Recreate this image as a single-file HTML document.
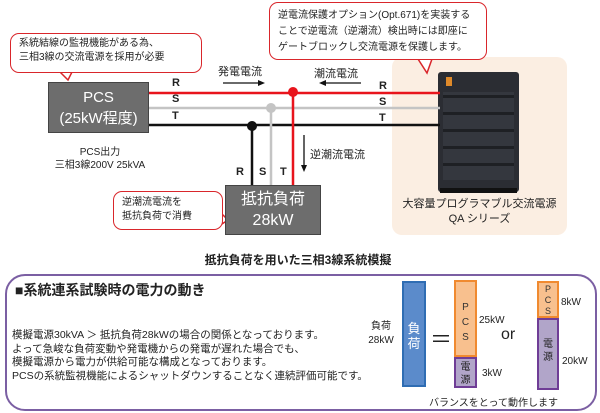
<!DOCTYPE html>
<html><head><meta charset="utf-8"><style>
*{margin:0;padding:0;box-sizing:border-box}
body{width:600px;height:413px;background:#fff;position:relative;overflow:hidden;font-family:"Liberation Sans","Noto Sans CJK JP",sans-serif;color:#222}
.a{position:absolute;white-space:nowrap}
.call{position:absolute;border:1.5px solid #d9262b;border-radius:9px;background:#fff;font-size:10px;line-height:14px;padding:3px 8px}
.box{position:absolute;background:#6d6d6d;border:1px solid #444;color:#fff;text-align:center}
.b{font-weight:bold;font-size:11px}
</style></head><body>
<div class="a" style="left:392px;top:57px;width:175px;height:178px;background:#fbeee2;border-radius:10px"></div>
<div class="a" style="left:438px;top:72px;width:81px;height:120px;background:#2b2d33;border-radius:3px"></div>
<div class="a" style="left:443px;top:92px;width:71px;height:88px;background:repeating-linear-gradient(0deg,#34373e 0 14px,#1e2024 14px 17px)"></div>
<div class="a" style="left:446px;top:77px;width:6px;height:9px;background:#e08a2a"></div>
<div class="a" style="left:440px;top:188px;width:77px;height:5px;background:#111"></div>
<svg class="a" style="left:0;top:0" width="600" height="413">
<line x1="149" y1="93" x2="440" y2="93" stroke="#e8141c" stroke-width="2.5"/>
<line x1="149" y1="108" x2="440" y2="108" stroke="#c4c4c4" stroke-width="2.5"/>
<line x1="149" y1="125" x2="440" y2="125" stroke="#111" stroke-width="2.5"/>
<line x1="252" y1="126" x2="252" y2="185" stroke="#111" stroke-width="2.5"/>
<line x1="271" y1="108" x2="271" y2="185" stroke="#c4c4c4" stroke-width="2.5"/>
<line x1="293" y1="93" x2="293" y2="185" stroke="#e8141c" stroke-width="2.5"/>
<circle cx="293" cy="92" r="5" fill="#e8141c"/><circle cx="271" cy="108" r="5" fill="#c4c4c4"/><circle cx="252" cy="126" r="5" fill="#111"/>
<line x1="223" y1="83" x2="260" y2="83" stroke="#111" stroke-width="1.3"/><polygon points="265,83 258,80 258,86" fill="#111"/>
<line x1="324" y1="83" x2="361" y2="83" stroke="#111" stroke-width="1.3"/><polygon points="319,83 326,80 326,86" fill="#111"/>
<line x1="304" y1="135" x2="304" y2="167" stroke="#111" stroke-width="1.3"/><polygon points="304,172 301,165 307,165" fill="#111"/>
<polygon points="60,72 72,72 68,80" fill="#fff" stroke="#d9262b" stroke-width="1.5"/>
<polygon points="418,59 432,59 427,73" fill="#fff" stroke="#d9262b" stroke-width="1.5"/>
<polygon points="222,214 222,224 228,220" fill="#fff" stroke="#d9262b" stroke-width="1.5"/>
</svg>
<div class="call" style="left:10px;top:33px;width:192px;height:40px">系統結線の監視機能がある為、<br>三相3線の交流電源を採用が必要</div>
<div class="call" style="left:269px;top:2px;width:218px;height:58px;padding-top:5px;line-height:16px">逆電流保護オプション(Opt.671)を実装する<br>ことで逆電流（逆潮流）検出時には即座に<br>ゲートブロックし交流電源を保護します。</div>
<div class="call" style="left:113px;top:191px;width:110px;height:39px;padding-top:4px">逆潮流電流を<br>抵抗負荷で消費</div>
<div class="box" style="left:48px;top:82px;width:101px;height:51px;font-size:15px;line-height:21px;padding-top:4px">PCS<br>(25kW程度)</div>
<div class="box" style="left:225px;top:185px;width:96px;height:50px;font-size:16px;line-height:21px;padding-top:3px">抵抗負荷<br>28kW</div>
<div class="a b" style="left:172px;top:77px">R</div><div class="a b" style="left:172px;top:93px">S</div><div class="a b" style="left:172px;top:110px">T</div>
<div class="a b" style="left:379px;top:80px">R</div><div class="a b" style="left:379px;top:96px">S</div><div class="a b" style="left:379px;top:112px">T</div>
<div class="a b" style="left:236px;top:166px">R</div><div class="a b" style="left:259px;top:166px">S</div><div class="a b" style="left:280px;top:166px">T</div>
<div class="a" style="left:218px;top:63px;font-size:11px">発電電流</div>
<div class="a" style="left:314px;top:65px;font-size:11px">潮流電流</div>
<div class="a" style="left:310px;top:146px;font-size:11px">逆潮流電流</div>
<div class="a" style="left:40px;top:146px;width:120px;text-align:center;font-size:10px;line-height:13px">PCS出力<br>三相3線200V 25kVA</div>
<div class="a" style="left:392px;top:197px;width:175px;text-align:center;font-size:11px;line-height:15px">大容量プログラマブル交流電源<br>QA シリーズ</div>
<div class="a" style="left:0;top:251px;width:596px;text-align:center;font-size:12px;font-weight:bold">抵抗負荷を用いた三相3線系統模擬</div>
<div class="a" style="left:5px;top:274px;width:592px;height:137px;border:2px solid #7b5fa3;border-radius:20px"></div>
<div class="a" style="left:15px;top:280px;font-size:14px;font-weight:bold">■系統連系試験時の電力の動き</div>
<div class="a" style="left:12px;top:329px;font-size:10.5px;line-height:13.5px">模擬電源30kVA ＞ 抵抗負荷28kWの場合の関係となっております。<br>よって急峻な負荷変動や発電機からの発電が遅れた場合でも、<br>模擬電源から電力が供給可能な構成となっております。<br>PCSの系統監視機能によるシャットダウンすることなく連続評価可能です。</div>
<div class="a" style="left:361px;top:320px;width:40px;text-align:center;font-size:10px;line-height:14px">負荷<br>28kW</div>
<div class="a" style="left:402px;top:281px;width:24px;height:106px;background:#5b8bcb;border:2px solid #2f6db3;color:#fff;font-size:13px;line-height:15px;text-align:center;padding-top:38px">負<br>荷</div>
<div class="a" style="left:430px;top:322px;font-size:22px">＝</div>
<div class="a" style="left:454px;top:280px;width:23px;height:77px;background:#f8c08e;border:2px solid #f08a30;font-size:10px;line-height:15px;text-align:center;padding-top:18px;color:#333">P<br>C<br>S</div>
<div class="a" style="left:454px;top:357px;width:23px;height:31px;background:#b1a5c9;border:2px solid #6f3d96;font-size:10px;line-height:13px;text-align:center;padding-top:2px">電<br>源</div>
<div class="a" style="left:479px;top:315px;font-size:10px">25kW</div>
<div class="a" style="left:482px;top:368px;font-size:10px">3kW</div>
<div class="a" style="left:501px;top:326px;font-size:16px">or</div>
<div class="a" style="left:537px;top:281px;width:22px;height:37px;background:#f8c08e;border:2px solid #f08a30;font-size:9px;line-height:11px;text-align:center;padding-top:1px;color:#333">P<br>C<br>S</div>
<div class="a" style="left:537px;top:318px;width:22px;height:72px;background:#b1a5c9;border:2px solid #6f3d96;font-size:10px;line-height:13px;text-align:center;padding-top:18px">電<br>源</div>
<div class="a" style="left:561px;top:297px;font-size:10px">8kW</div>
<div class="a" style="left:562px;top:356px;font-size:10px">20kW</div>
<div class="a" style="left:429px;top:394px;font-size:10px">バランスをとって動作します</div>
</body></html>
